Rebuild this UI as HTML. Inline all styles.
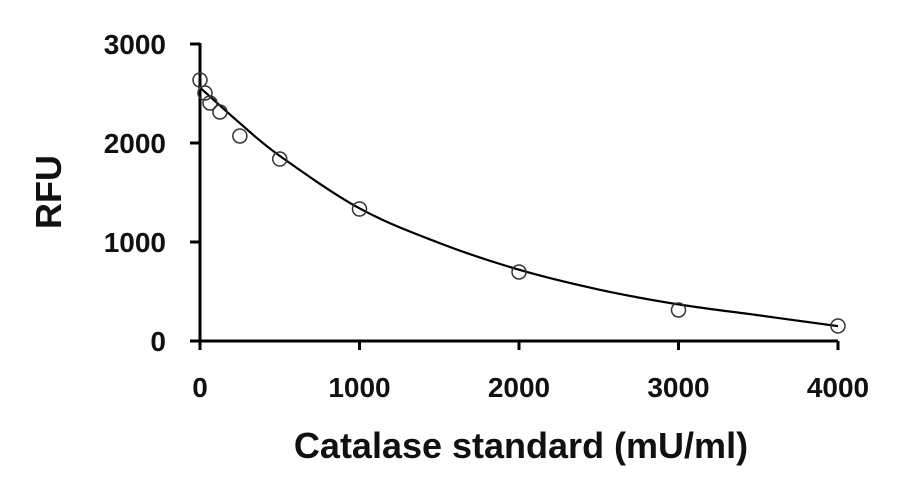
<!DOCTYPE html>
<html><head><meta charset="utf-8"><style>
body{margin:0;background:#fff}
svg text{font-family:"Liberation Sans",Arial,sans-serif;font-weight:bold;fill:#111}
</style></head><body>
<svg id="chart" width="915" height="489">
<g id="axes"></g><g id="marks"></g>
<text x="61" y="192" font-size="36" text-anchor="middle" transform="rotate(-90 61 192)">RFU</text>
<text x="521" y="458" font-size="36" text-anchor="middle">Catalase standard (mU/ml)</text>
</svg>
<script>
const xTicks=[0,1000,2000,3000,4000];
const yTicks=[0,1000,2000,3000];
const pointX=[0,31.25,62.5,125,250,500,1000,2000,3000,4000];
const pointY=[2636,2505,2404,2313,2071,1838,1333,697,313,152];
const curveX=[0,250,500,1000,1500,2000,2500,3000,3500,4000];
const curveY=[2560,2200,1870,1340,990,720,520,370,260,150];
const NS="http://www.w3.org/2000/svg";
const xs=v=>200+v*0.1595, ys=v=>341-v*0.099;
function mk(t,a,p){const e=document.createElementNS(NS,t);for(const k in a)e.setAttribute(k,a[k]);p.appendChild(e);return e;}
const ax=document.getElementById('axes'), mg=document.getElementById('marks');
let e=mk('line',{x1:xs(0),y1:ys(0),x2:xs(4000),y2:ys(0),stroke:'#000','stroke-width':3},ax);


e=mk('line',{x1:xs(0),y1:ys(0)+1,x2:xs(0),y2:ys(3000)-1,stroke:'#000','stroke-width':3},ax);


yTicks.forEach(v=>{
 mk('line',{x1:xs(0)-10,y1:ys(v),x2:xs(0),y2:ys(v),stroke:'#000','stroke-width':3},ax);
 const t=mk('text',{x:166,y:ys(v)+10,'font-size':28,'text-anchor':'end'},ax);t.textContent=v;
 
 
});
xTicks.forEach(v=>{
 mk('line',{x1:xs(v),y1:ys(0),x2:xs(v),y2:ys(0)+9,stroke:'#000','stroke-width':3},ax);
 const t=mk('text',{x:xs(v),y:397,'font-size':28,'text-anchor':'middle'},ax);t.textContent=v;
 
 
});
const P=curveX.map((x,i)=>[xs(x),ys(curveY[i])]);
let d='M'+P[0][0]+','+P[0][1];
for(let i=0;i<P.length-1;i++){const p0=P[Math.max(0,i-1)],p1=P[i],p2=P[i+1],p3=P[Math.min(P.length-1,i+2)];
 d+=` C${p1[0]+(p2[0]-p0[0])/6},${p1[1]+(p2[1]-p0[1])/6} ${p2[0]-(p3[0]-p1[0])/6},${p2[1]-(p3[1]-p1[1])/6} ${p2[0]},${p2[1]}`;}
e=mk('path',{d:d,fill:'none',stroke:'#000','stroke-width':2.2},mg);


pointX.forEach((x,i)=>{
 const c=mk('circle',{cx:xs(x),cy:ys(pointY[i]),r:7,fill:'none',stroke:'#333','stroke-width':1.5},mg);
 
 
});
</script>
</body></html>
